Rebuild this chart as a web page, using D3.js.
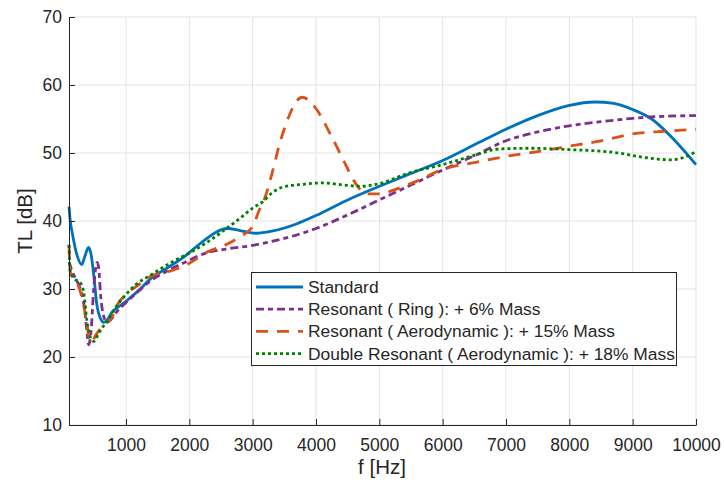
<!DOCTYPE html>
<html>
<head>
<meta charset="utf-8">
<script src="https://cdn.jsdelivr.net/npm/d3@7"></script>
<style>
  body { margin: 0; background: #fff; }
  text { font-family: "Liberation Sans", Arial, Helvetica, sans-serif; fill: #262626; }
</style>
</head>
<body>
<svg id="chart"></svg>
<script>
// tick values
var xTicks = [1000, 2000, 3000, 4000, 5000, 6000, 7000, 8000, 9000, 10000];
var yTicks = [10, 20, 30, 40, 50, 60, 70];

// Standard
var fStandard = [100, 120, 150, 220, 300, 350, 410, 450, 490, 540, 600, 650, 700, 780, 900, 1000, 1200, 1400, 1600, 1900, 2200, 2500, 2600, 2800, 3050, 3300, 3700, 4000, 4500, 5000, 5500, 6000, 6500, 7000, 7500, 8000, 8400, 8700, 9000, 9300, 9650, 10000];
var tlStandard = [42.1, 40, 38.3, 35.2, 33.6, 34.8, 36.1, 35, 32.1, 27.7, 25.6, 25.1, 25.4, 26.6, 27.5, 28.2, 29.8, 31.6, 32.8, 34.6, 36.9, 38.7, 38.9, 38.6, 38.2, 38.5, 39.6, 40.8, 43.1, 45.1, 47, 48.9, 51.2, 53.5, 55.5, 57.0, 57.5, 57.3, 56.4, 55, 52, 48.3];

// Resonant ( Ring ): + 6% Mass
var fRing = [100, 150, 200, 280, 340, 380, 410, 450, 490, 520, 545, 570, 600, 640, 700, 760, 850, 1000, 1200, 1400, 1600, 1900, 2300, 2600, 3000, 3300, 3600, 4000, 4500, 5000, 5500, 6000, 6500, 7000, 7500, 8000, 8500, 9000, 9500, 10000];
var tlRing = [34, 32.6, 31.6, 30, 27.5, 24, 21.8, 24, 30, 33, 33.9, 33, 29, 26.3, 25.1, 25.5, 26.6, 28, 29.7, 31.3, 32.4, 33.8, 35.4, 35.9, 36.4, 37, 37.7, 38.9, 40.9, 43.1, 45.3, 47.5, 49.6, 51.8, 53.1, 54, 54.6, 55.1, 55.4, 55.5];

// Resonant ( Aerodynamic ): + 15% Mass
var fAero = [100, 120, 180, 250, 330, 380, 420, 460, 520, 580, 640, 700, 760, 850, 1000, 1200, 1400, 1750, 2000, 2300, 2600, 2800, 3000, 3100, 3200, 3300, 3430, 3560, 3690, 3780, 3880, 4010, 4220, 4430, 4620, 4800, 5000, 5300, 5600, 6000, 6500, 7000, 7500, 8000, 8500, 9000, 9500, 10000];
var tlAero = [36.5, 32.5, 31.5, 30.4, 27.7, 25, 22.8, 22.2, 23.2, 24, 24.8, 25.2, 25.5, 27.5, 29.2, 30.6, 31.9, 32.8, 33.8, 35.5, 36.6, 37.7, 39.2, 41.5, 43.6, 46.8, 51.5, 55.1, 57.6, 58.2, 57.8, 56.4, 52.9, 49, 45.6, 44, 44, 44.8, 45.9, 47.6, 48.6, 49.5, 50.2, 51, 51.8, 52.8, 53.2, 53.5];

// Double Resonant ( Aerodynamic ): + 18% Mass
var fDouble = [100, 120, 200, 280, 330, 385, 440, 490, 570, 640, 700, 830, 1000, 1150, 1400, 1750, 2000, 2270, 2500, 2800, 3000, 3170, 3300, 3480, 3800, 4100, 4430, 4700, 5000, 5480, 6000, 6480, 6900, 7400, 8000, 8700, 9220, 9590, 9850, 10000];
var tlDouble = [36.5, 32.6, 31.4, 30.9, 29.6, 25.2, 22.8, 22.3, 23.5, 24.5, 25.2, 27.2, 29.2, 30.6, 32.1, 34.1, 35.3, 36.8, 38.3, 40.4, 41.9, 42.9, 44.1, 45, 45.4, 45.6, 45.3, 45.1, 45.5, 47.1, 48.3, 49.6, 50.6, 50.7, 50.5, 50.1, 49.3, 49, 49.5, 50.2];

var seriesNames = ["Standard", "Resonant ( Ring ): + 6% Mass", "Resonant ( Aerodynamic ): + 15% Mass", "Double Resonant ( Aerodynamic ): + 18% Mass"];

var series = [
    { name: seriesNames[0], f: fStandard, tl: tlStandard, color: "#0072BD", dash: null },
    { name: seriesNames[1], f: fRing, tl: tlRing, color: "#7E2F8E", dash: "8,4,5,4" },
    { name: seriesNames[2], f: fAero, tl: tlAero, color: "#D95319", dash: "12,9" },
    { name: seriesNames[3], f: fDouble, tl: tlDouble, color: "#008000", dash: "3,3" }
];

var svg = d3.select("#chart")
    .attr("width", 724)
    .attr("height", 486);

var xScale = d3.scaleLinear().domain([100, 10000]).range([69, 696]);
var yScale = d3.scaleLinear().domain([10, 70]).range([425, 17]);

// grid
svg.append("g").selectAll("line.vgrid")
    .data(xTicks)
    .enter().append("line")
    .attr("x1", d => xScale(d)).attr("x2", d => xScale(d))
    .attr("y1", yScale(10)).attr("y2", yScale(70))
    .attr("stroke", "#e3e3e3").attr("stroke-width", 1);

svg.append("g").selectAll("line.hgrid")
    .data(yTicks)
    .enter().append("line")
    .attr("x1", xScale(100)).attr("x2", xScale(10000))
    .attr("y1", d => yScale(d)).attr("y2", d => yScale(d))
    .attr("stroke", "#e3e3e3").attr("stroke-width", 1);

// curves
var line = d3.line()
    .x(d => xScale(d[0]))
    .y(d => yScale(d[1]))
    .curve(d3.curveMonotoneX);

series.forEach(function(s) {
    var pts = s.f.map((f, i) => [f, s.tl[i]]);
    svg.append("path")
        .datum(pts)
        .attr("d", line)
        .attr("fill", "none")
        .attr("stroke", s.color)
        .attr("stroke-width", 2.8)
        .attr("stroke-dasharray", s.dash);
});

// axes
var xAxis = svg.append("g")
    .attr("transform", "translate(0," + yScale(10) + ")")
    .call(d3.axisBottom(xScale).tickValues(xTicks).tickFormat(d3.format("d"))
        .tickSize(-6).tickSizeOuter(0).tickPadding(14));

var yAxis = svg.append("g")
    .attr("transform", "translate(" + xScale(100) + ",0)")
    .call(d3.axisLeft(yScale).tickValues(yTicks).tickFormat(d3.format("d"))
        .tickSize(-6).tickSizeOuter(0).tickPadding(7));

[xAxis, yAxis].forEach(function(a) {
    a.select(".domain").attr("stroke", "#262626").attr("stroke-width", 1);
    a.selectAll(".tick line").attr("stroke", "#262626");
    a.selectAll(".tick text").attr("font-size", "17.5px").attr("fill", "#262626")
        .attr("font-family", "'Liberation Sans', Arial, sans-serif");
});

svg.append("text")
    .attr("x", 382).attr("y", 474)
    .attr("text-anchor", "middle")
    .attr("font-size", "20.5px")
    .text("f [Hz]");

svg.append("text")
    .attr("transform", "translate(32,221) rotate(-90)")
    .attr("text-anchor", "middle")
    .attr("font-size", "20.5px")
    .text("TL [dB]");

// legend
var legend = svg.append("g");
legend.append("rect")
    .attr("x", 251.5).attr("y", 272.5)
    .attr("width", 425).attr("height", 93)
    .attr("fill", "#fff")
    .attr("stroke", "#262626").attr("stroke-width", 1);

series.forEach(function(s, i) {
    var cy = 287 + i * 22.2;
    legend.append("line")
        .attr("x1", 256).attr("x2", 303)
        .attr("y1", cy).attr("y2", cy)
        .attr("stroke", s.color)
        .attr("stroke-width", 2.8)
        .attr("stroke-dasharray", s.dash);
    legend.append("text")
        .attr("x", 308).attr("y", cy)
        .attr("dy", "0.35em")
        .attr("font-size", "17.4px")
        .text(s.name);
});
</script>
</body>
</html>
